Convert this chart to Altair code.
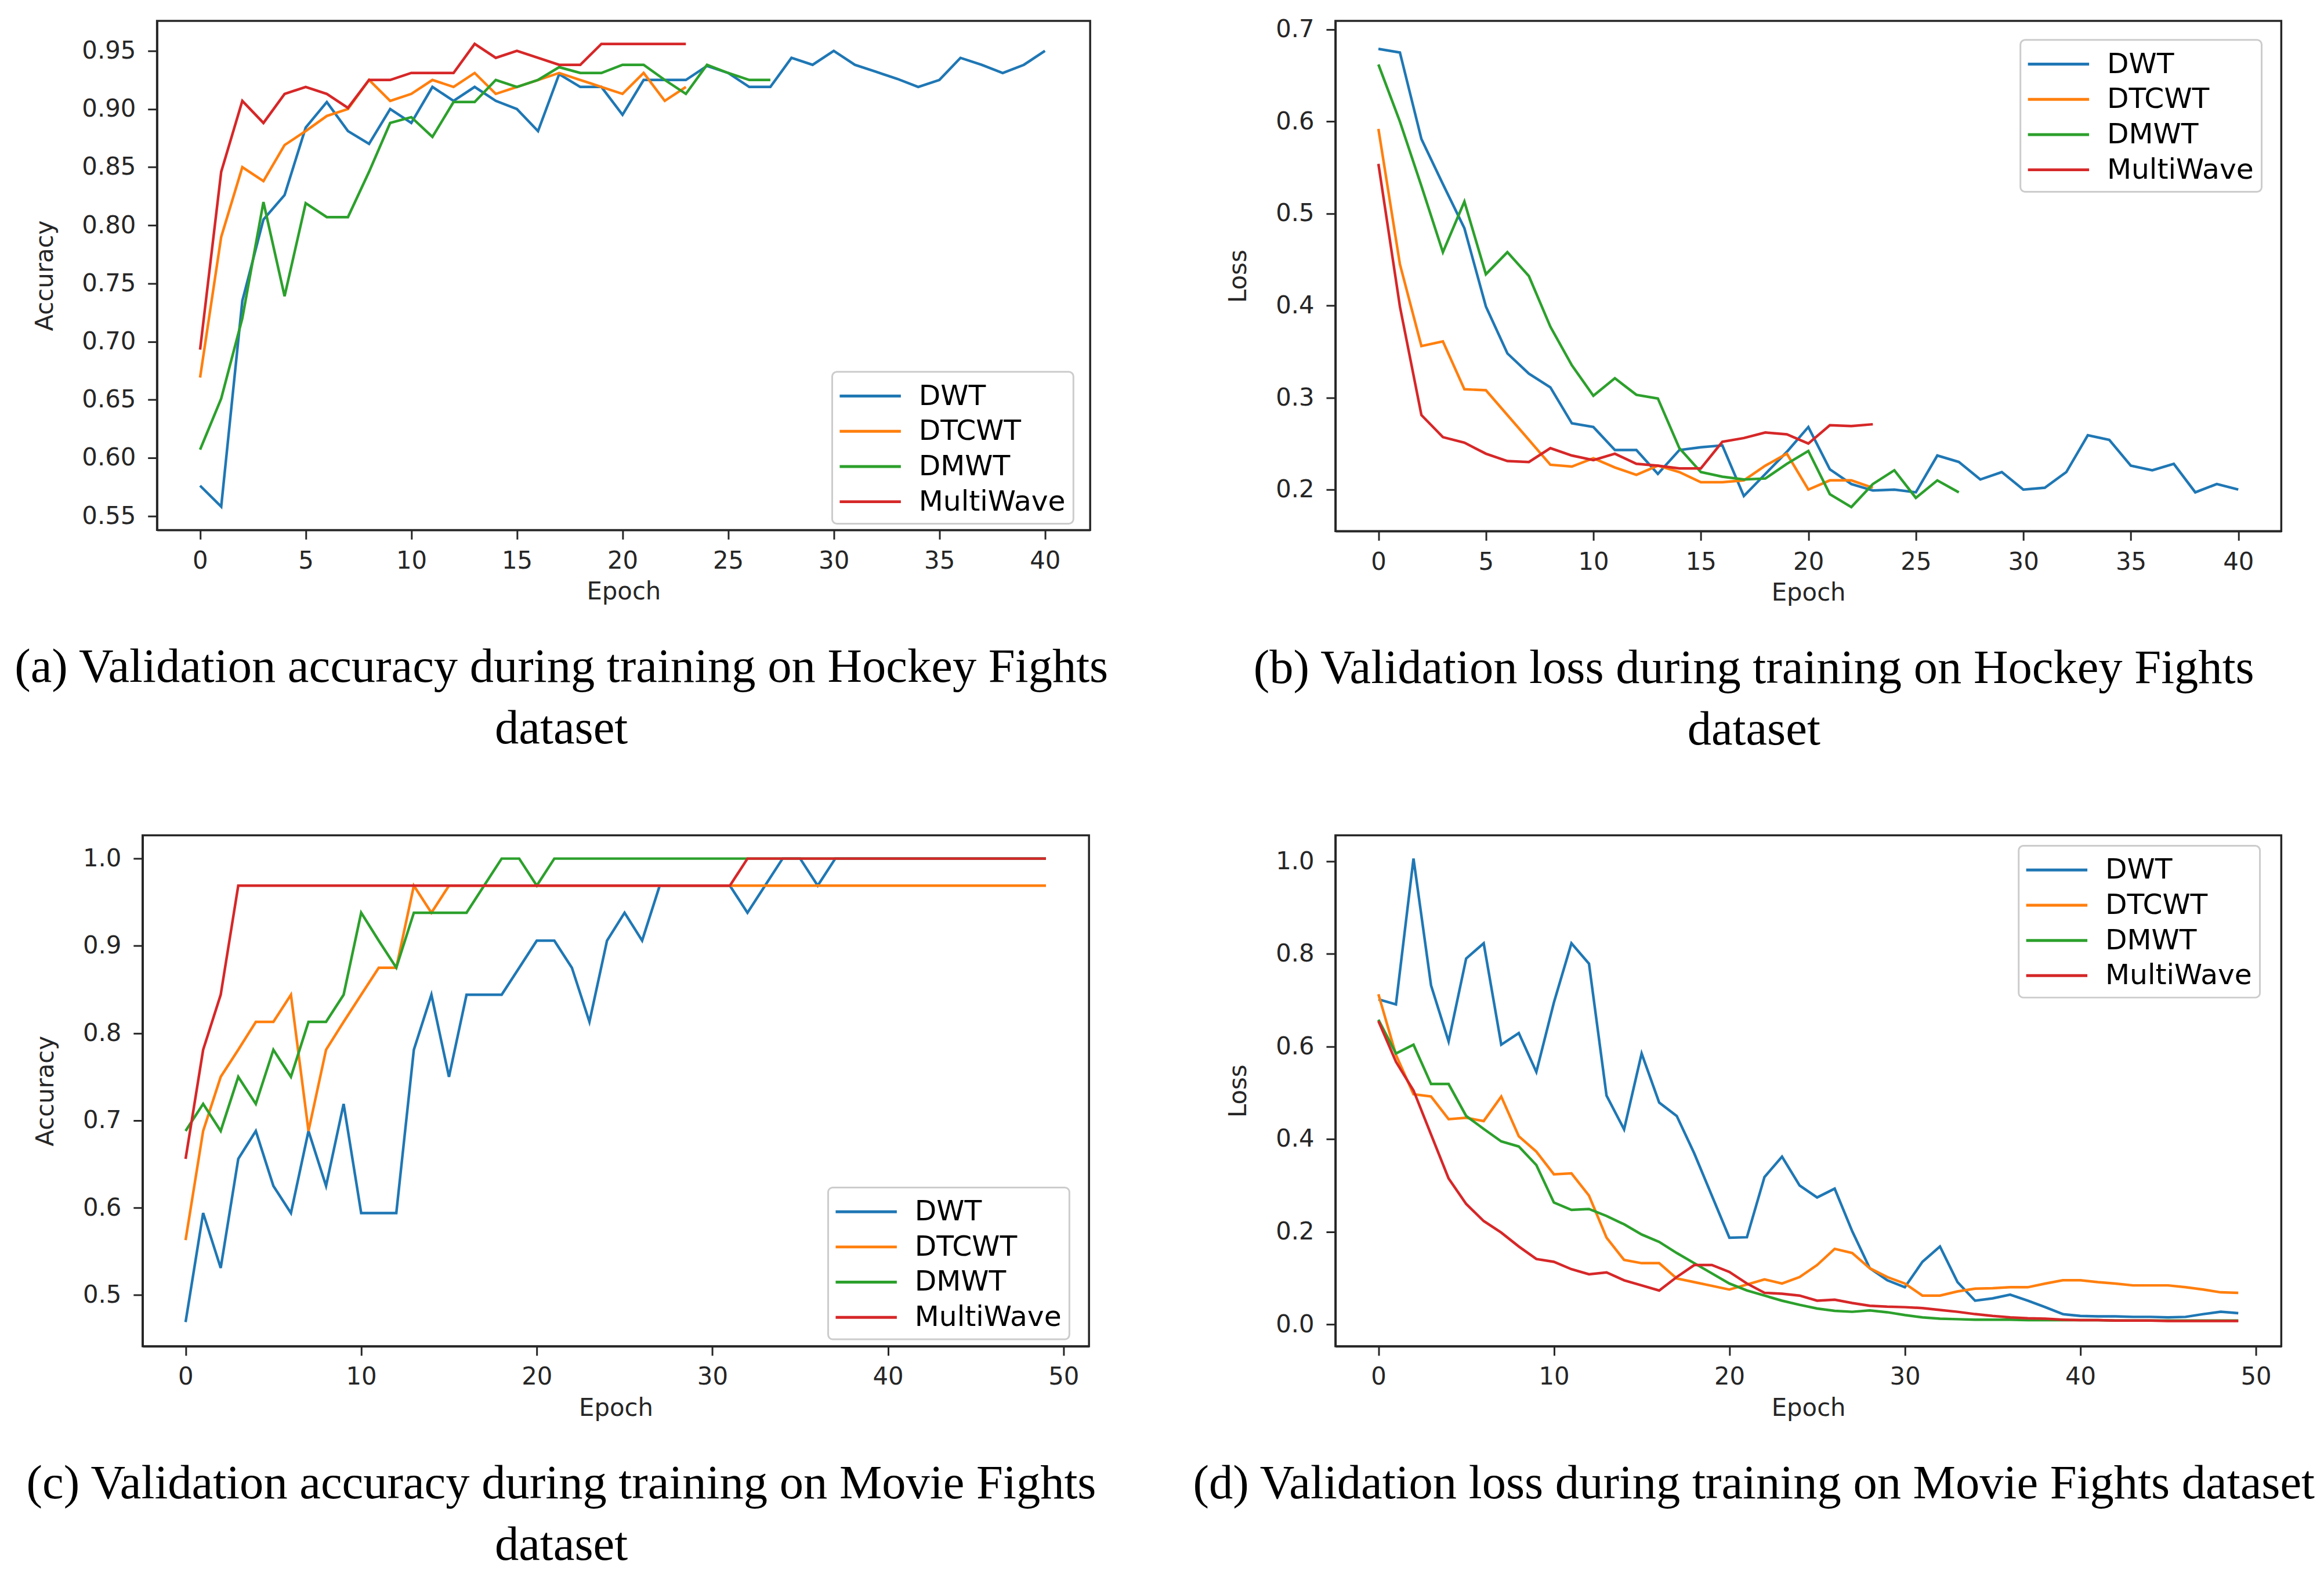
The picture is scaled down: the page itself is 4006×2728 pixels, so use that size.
import altair as alt
import pandas as pd

MODELS = ["DWT", "DTCWT", "DMWT", "MultiWave"]
COLORS = ["#1f77b4", "#ff7f0e", "#2ca02c", "#d62728"]

# (a) Validation accuracy, Hockey Fights
a_dwt = [0.576, 0.558, 0.735, 0.805, 0.826, 0.884, 0.906, 0.881, 0.870, 0.900,
         0.888, 0.919, 0.907, 0.919, 0.907, 0.900, 0.881, 0.930, 0.919, 0.919,
         0.895, 0.925, 0.925, 0.925, 0.937, 0.931, 0.919, 0.919, 0.944, 0.938,
         0.950, 0.938, 0.932, 0.926, 0.919, 0.925, 0.944, 0.938, 0.931, 0.938, 0.950]
a_dtcwt = [0.669, 0.790, 0.850, 0.838, 0.869, 0.881, 0.894, 0.900, 0.925, 0.907,
           0.913, 0.925, 0.919, 0.931, 0.913, 0.919, 0.925, 0.931, 0.925, 0.919,
           0.913, 0.931, 0.907, 0.919]
a_dmwt = [0.607, 0.651, 0.720, 0.820, 0.739, 0.819, 0.807, 0.807, 0.846, 0.888,
          0.893, 0.876, 0.906, 0.906, 0.925, 0.919, 0.925, 0.936, 0.931, 0.931,
          0.938, 0.938, 0.925, 0.913, 0.938, 0.931, 0.925, 0.925]
a_multi = [0.693, 0.846, 0.907, 0.888, 0.913, 0.919, 0.913, 0.901, 0.925, 0.925,
           0.931, 0.931, 0.931, 0.956, 0.944, 0.950, 0.944, 0.938, 0.938, 0.956,
           0.956, 0.956, 0.956, 0.956]

# (b) Validation loss, Hockey Fights
b_dwt = [0.679, 0.675, 0.581, 0.532, 0.484, 0.399, 0.348, 0.326, 0.311, 0.272,
         0.268, 0.243, 0.243, 0.217, 0.243, 0.246, 0.248, 0.193, 0.217, 0.241,
         0.268, 0.222, 0.206, 0.199, 0.200, 0.197, 0.237, 0.230, 0.211, 0.219,
         0.200, 0.202, 0.219, 0.259, 0.254, 0.226, 0.221, 0.228, 0.197, 0.206, 0.200]
b_dtcwt = [0.592, 0.445, 0.356, 0.361, 0.309, 0.308, 0.281, 0.254, 0.227, 0.225,
           0.234, 0.224, 0.216, 0.226, 0.219, 0.208, 0.208, 0.210, 0.226, 0.239,
           0.200, 0.210, 0.210, 0.202]
b_dmwt = [0.662, 0.600, 0.530, 0.458, 0.513, 0.434, 0.458, 0.432, 0.377, 0.335,
          0.302, 0.321, 0.303, 0.299, 0.245, 0.219, 0.214, 0.211, 0.212, 0.228,
          0.242, 0.195, 0.181, 0.206, 0.221, 0.191, 0.210, 0.197]
b_multi = [0.554, 0.399, 0.281, 0.257, 0.251, 0.239, 0.231, 0.230, 0.245, 0.237,
           0.232, 0.239, 0.228, 0.226, 0.223, 0.223, 0.252, 0.256, 0.262, 0.260,
           0.250, 0.270, 0.269, 0.271]

# (c) Validation accuracy, Movie Fights
c_dwt = [0.469, 0.594, 0.531, 0.656, 0.688, 0.625, 0.594, 0.688, 0.625, 0.719,
         0.594, 0.594, 0.594, 0.781, 0.844, 0.750, 0.844, 0.844, 0.844, 0.875,
         0.906, 0.906, 0.875, 0.813, 0.906, 0.938, 0.906, 0.969, 0.969, 0.969,
         0.969, 0.969, 0.938, 0.969, 1.000, 1.000, 0.969, 1.000, 1.000, 1.000,
         1.000, 1.000, 1.000, 1.000, 1.000, 1.000, 1.000, 1.000, 1.000, 1.000]
c_dtcwt = [0.563, 0.688, 0.750, 0.781, 0.813, 0.813, 0.844, 0.688, 0.781, 0.813,
           0.844, 0.875, 0.875, 0.969, 0.938, 0.969, 0.969, 0.969, 0.969, 0.969,
           0.969, 0.969, 0.969, 0.969, 0.969, 0.969, 0.969, 0.969, 0.969, 0.969,
           0.969, 0.969, 0.969, 0.969, 0.969, 0.969, 0.969, 0.969, 0.969, 0.969,
           0.969, 0.969, 0.969, 0.969, 0.969, 0.969, 0.969, 0.969, 0.969, 0.969]
c_dmwt = [0.688, 0.719, 0.688, 0.750, 0.719, 0.781, 0.750, 0.813, 0.813, 0.844,
          0.938, 0.906, 0.875, 0.938, 0.938, 0.938, 0.938, 0.969, 1.000, 1.000,
          0.969, 1.000, 1.000, 1.000, 1.000, 1.000, 1.000, 1.000, 1.000, 1.000,
          1.000, 1.000, 1.000, 1.000, 1.000, 1.000, 1.000, 1.000, 1.000, 1.000,
          1.000, 1.000, 1.000, 1.000, 1.000, 1.000, 1.000, 1.000, 1.000, 1.000]
c_multi = [0.656, 0.781, 0.844, 0.969, 0.969, 0.969, 0.969, 0.969, 0.969, 0.969,
           0.969, 0.969, 0.969, 0.969, 0.969, 0.969, 0.969, 0.969, 0.969, 0.969,
           0.969, 0.969, 0.969, 0.969, 0.969, 0.969, 0.969, 0.969, 0.969, 0.969,
           0.969, 0.969, 1.000, 1.000, 1.000, 1.000, 1.000, 1.000, 1.000, 1.000,
           1.000, 1.000, 1.000, 1.000, 1.000, 1.000, 1.000, 1.000, 1.000, 1.000]

# (d) Validation loss, Movie Fights
d_dwt = [0.702, 0.691, 1.006, 0.732, 0.611, 0.790, 0.823, 0.604, 0.629, 0.545,
         0.695, 0.823, 0.779, 0.494, 0.421, 0.585, 0.479, 0.450, 0.369, 0.278,
         0.187, 0.188, 0.318, 0.362, 0.300, 0.274, 0.293, 0.201, 0.121, 0.095,
         0.080, 0.135, 0.168, 0.091, 0.051, 0.056, 0.064, 0.051, 0.037, 0.022,
         0.018, 0.017, 0.017, 0.016, 0.016, 0.015, 0.016, 0.022, 0.027, 0.024]
d_dtcwt = [0.713, 0.582, 0.497, 0.492, 0.443, 0.446, 0.439, 0.492, 0.406, 0.373,
           0.324, 0.326, 0.278, 0.187, 0.139, 0.132, 0.132, 0.099, 0.091, 0.083,
           0.075, 0.086, 0.097, 0.088, 0.102, 0.128, 0.163, 0.154, 0.121, 0.102,
           0.088, 0.062, 0.062, 0.071, 0.077, 0.078, 0.080, 0.080, 0.088, 0.095,
           0.095, 0.091, 0.088, 0.084, 0.084, 0.084, 0.080, 0.075, 0.069, 0.068]
d_dmwt = [0.658, 0.585, 0.604, 0.519, 0.519, 0.450, 0.422, 0.395, 0.384, 0.344,
          0.263, 0.247, 0.249, 0.234, 0.216, 0.194, 0.178, 0.154, 0.132, 0.110,
          0.088, 0.073, 0.062, 0.051, 0.042, 0.034, 0.029, 0.027, 0.030, 0.026,
          0.020, 0.015, 0.012, 0.011, 0.010, 0.010, 0.010, 0.009, 0.009, 0.009,
          0.009, 0.009, 0.008, 0.008, 0.008, 0.008, 0.008, 0.008, 0.008, 0.008]
d_multi = [0.655, 0.567, 0.505, 0.410, 0.315, 0.260, 0.223, 0.198, 0.168, 0.141,
           0.135, 0.119, 0.108, 0.112, 0.095, 0.084, 0.073, 0.102, 0.128, 0.128,
           0.113, 0.088, 0.068, 0.066, 0.062, 0.051, 0.053, 0.046, 0.040, 0.038,
           0.037, 0.035, 0.031, 0.027, 0.022, 0.018, 0.015, 0.013, 0.012, 0.010,
           0.009, 0.009, 0.008, 0.008, 0.008, 0.007, 0.007, 0.007, 0.007, 0.007]

ticks_40 = [0, 5, 10, 15, 20, 25, 30, 35, 40]
ticks_50 = [0, 10, 20, 30, 40, 50]
a_yticks = [0.55, 0.60, 0.65, 0.70, 0.75, 0.80, 0.85, 0.90, 0.95]
b_yticks = [0.2, 0.3, 0.4, 0.5, 0.6, 0.7]
c_yticks = [0.5, 0.6, 0.7, 0.8, 0.9, 1.0]
d_yticks = [0.0, 0.2, 0.4, 0.6, 0.8, 1.0]

cap_a = ["(a) Validation accuracy during training on Hockey Fights", "dataset"]
cap_b = ["(b) Validation loss during training on Hockey Fights", "dataset"]
cap_c = ["(c) Validation accuracy during training on Movie Fights", "dataset"]
cap_d = "(d) Validation loss during training on Movie Fights dataset"

SANS = "DejaVu Sans"
SERIF = "Liberation Serif"
INK = "#262626"


def to_long(series_list):
    rows = []
    for m, vals in zip(MODELS, series_list):
        for e, v in enumerate(vals):
            rows.append({"epoch": e, "value": v, "model": m})
    return pd.DataFrame(rows)


def panel(series, xdom, xticks, ydom, yticks, yfmt, ytitle, w, h, lx, ly, caption):
    legend = alt.Legend(
        title=None, orient="none", legendX=lx, legendY=ly,
        symbolType="M-2,0L2,0", symbolSize=2809, symbolStrokeWidth=5,
        symbolOffset=24,
        labelFont=SANS, labelFontSize=49, labelColor="black", labelLimit=0,
        labelOffset=55, padding=13, rowPadding=7,
        fillColor="rgba(255,255,255,0.8)", strokeColor="#cccccc",
        cornerRadius=8,
    )
    return alt.Chart(to_long(series)).mark_line(strokeWidth=4.5).encode(
        x=alt.X("epoch:Q", scale=alt.Scale(domain=xdom, nice=False, zero=False),
                axis=alt.Axis(values=xticks, format="d", title="Epoch")),
        y=alt.Y("value:Q", scale=alt.Scale(domain=ydom, nice=False, zero=False),
                axis=alt.Axis(values=yticks, format=yfmt, title=ytitle)),
        color=alt.Color("model:N", scale=alt.Scale(domain=MODELS, range=COLORS),
                        legend=legend),
    ).properties(
        width=w, height=h,
        title=alt.TitleParams(text=caption, orient="bottom", anchor="middle",
                              frame="bounds", font=SERIF, fontSize=83,
                              fontWeight="normal", color="black",
                              lineHeight=107, offset=69),
    )


def spacer(w):
    return alt.Chart(pd.DataFrame({"v": [0]})).mark_point(size=0, opacity=0).encode(
        x=alt.X("v:Q", axis=None), y=alt.Y("v:Q", axis=None)
    ).properties(width=w, height=1, view=alt.ViewBackground(stroke=None))


pa = panel([a_dwt, a_dtcwt, a_dmwt, a_multi], [-2.04, 42.14], ticks_40,
           [0.5379, 0.9758], a_yticks, ".2f", "Accuracy", 1617, 882, 1170, 608, cap_a)
pb = panel([b_dwt, b_dtcwt, b_dmwt, b_multi], [-2.0, 42.0], ticks_40,
           [0.1548, 0.7094], b_yticks, ".1f", "Loss", 1639, 884, 1187, 33, cap_b)
pc = panel([c_dwt, c_dtcwt, c_dmwt, c_multi], [-2.45, 51.45], ticks_50,
           [0.4414, 1.0266], c_yticks, ".1f", "Accuracy", 1640, 885, 1188, 610, cap_c)
pd_ = panel([d_dwt, d_dtcwt, d_dmwt, d_multi], [-2.45, 51.45], ticks_50,
            [-0.0474, 1.0561], d_yticks, ".1f", "Loss", 1639, 885, 1184, 18, cap_d)

inner1 = alt.hconcat(pa, pb, spacing=425, bounds="flush").resolve_scale(color="independent")
row1 = alt.hconcat(spacer(25), inner1, spacing=0, bounds="flush").resolve_scale(color="independent")
row2 = alt.hconcat(pc, pd_, spacing=427, bounds="flush").resolve_scale(color="independent")

chart = alt.vconcat(row1, row2, spacing=136).resolve_scale(
    color="independent"
).properties(
    padding={"left": 14, "top": 13, "right": 5, "bottom": 5}
).configure_view(
    stroke=INK, strokeWidth=3.5
).configure_legend(
    strokeWidth=3
).configure_axis(
    grid=False, domainColor=INK, domainWidth=3.5, tickColor=INK, tickWidth=3,
    tickSize=16, labelFont=SANS, labelFontSize=42, labelColor=INK,
    titleFont=SANS, titleFontSize=42, titleFontWeight="normal", titleColor=INK,
    labelFlush=False, labelOverlap=False,
).configure_axisX(
    labelPadding=17, titlePadding=13
).configure_axisY(
    labelPadding=21, titlePadding=42
)

chart.save("out.html", embed_options={"renderer": "svg", "actions": False})
